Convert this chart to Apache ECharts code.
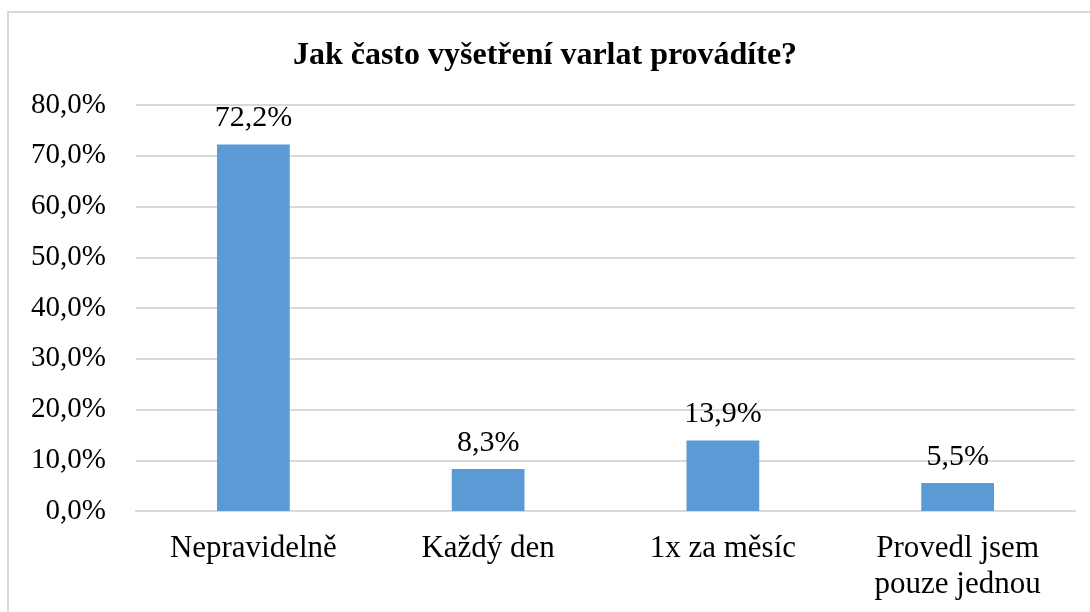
<!DOCTYPE html>
<html>
<head>
<meta charset="utf-8">
<script src="https://cdn.jsdelivr.net/npm/echarts@6/dist/echarts.min.js"></script>
<style>
  html, body { margin: 0; padding: 0; background: #fff; }
  #chart { width: 1090px; height: 612px; }
</style>
</head>
<body>
<div id="chart"></div>
<script>
var titleText = "Jak často vyšetření varlat provádíte?";
var categories = ["Nepravidelně", "Každý den", "1x za měsíc", "Provedl jsem\npouze jednou"];
var values = [72.2, 8.3, 13.9, 5.5];

var serif = "'Liberation Serif', 'Times New Roman', serif";

function pct(v) {
  return v.toFixed(1).replace(".", ",") + "%";
}

var myChart = echarts.init(document.getElementById("chart"));
var option = {
  backgroundColor: "#fff",
  animation: false,
  title: {
    text: titleText,
    left: "center",
    top: 35,
    textStyle: {
      fontFamily: serif,
      fontWeight: "bold",
      fontSize: 32,
      color: "#000"
    }
  },
  graphic: [
    {
      type: "rect",
      shape: { x: 8, y: 12, width: 1100, height: 620 },
      style: { fill: "none", stroke: "#d9d9d9", lineWidth: 2 },
      silent: true
    }
  ],
  grid: {
    left: 136,
    right: 15,
    top: 105,
    bottom: 101
  },
  xAxis: {
    type: "category",
    data: categories,
    axisLine: { show: true, lineStyle: { color: "#d9d9d9", width: 2 } },
    axisTick: { show: false },
    axisLabel: {
      fontFamily: serif,
      fontSize: 31,
      color: "#000",
      margin: 20,
      lineHeight: 36
    }
  },
  yAxis: {
    type: "value",
    min: 0,
    max: 80,
    interval: 10,
    axisLine: { show: false },
    axisTick: { show: false },
    splitLine: { lineStyle: { color: "#d9d9d9", width: 2 } },
    axisLabel: {
      fontFamily: serif,
      fontSize: 29,
      color: "#000",
      margin: 30,
      formatter: function (v) { return pct(v); }
    }
  },
  series: [
    {
      type: "bar",
      data: values,
      barWidth: "31%",
      itemStyle: { color: "#5b9bd5" },
      label: {
        show: true,
        position: "top",
        distance: 11,
        fontFamily: serif,
        fontSize: 30,
        color: "#000",
        formatter: function (p) { return pct(p.value); }
      }
    }
  ]
};
myChart.setOption(option);
</script>
</body>
</html>
